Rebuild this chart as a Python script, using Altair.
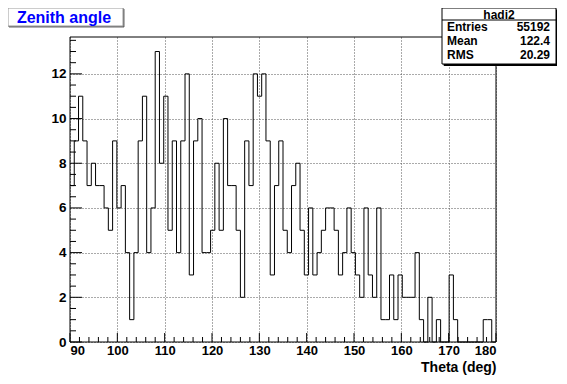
import altair as alt
import pandas as pd

# ---------------- data ----------------
x_min, x_max, n_bins = 90, 180, 100
counts = [7, 9, 11, 9, 7, 8, 7, 7, 6, 5, 9, 6, 7, 4, 1, 4, 9,
          11, 4, 6, 13, 8, 11, 5, 9, 4, 9, 12, 3, 9, 10, 4,
          4, 5, 8, 5, 10, 7, 7, 5, 2, 9, 7, 12, 11, 12, 9, 3, 7, 9,
          5, 4, 7, 8, 5, 3, 6, 3, 4, 5, 6, 6, 5, 3, 4, 6,
          4, 3, 2, 6, 3, 2, 6, 1, 1, 3, 1, 3, 2, 2, 2, 4, 1,
          0, 2, 0, 1, 0, 0, 3, 1, 0, 0, 0, 0, 0, 0, 1, 1, 0]
x_ticks = [90, 100, 110, 120, 130, 140, 150, 160, 170, 180]
y_ticks = [0, 2, 4, 6, 8, 10, 12]
y_max = 13.65
title_text = "Zenith angle"
stats_name = "hadi2"
stats_labels = ["Entries", "Mean", "RMS"]
stats_values = ["55192", "122.4", "20.29"]
x_title = "Theta (deg)"

# ---------------- build tables ----------------
bw = (x_max - x_min) / n_bins
edges = [x_min + i * bw for i in range(n_bins)] + [x_max]
hist_df = pd.DataFrame({"x": edges, "y": counts + [counts[-1]]})

x_minor = [v for v in range(x_min, x_max + 1, 2) if v % 10]
y_minor = [k * 0.5 for k in range(1, 28) if k % 4]

W, H = 426, 305
FONT = "Liberation Sans"

xscale = alt.Scale(domain=[x_min, x_max], nice=False, zero=False)
yscale = alt.Scale(domain=[0, y_max], nice=False)

xaxis = alt.Axis(values=x_ticks, title=x_title, grid=True,
                 gridDash=[1, 2], gridColor="#555", gridWidth=1,
                 ticks=False, domain=False, labelPadding=2,
                 labelFont=FONT, labelFontWeight="bold",
                 labelFontSize=13, labelColor="black",
                 titleFont=FONT, titleFontWeight="bold",
                 titleFontSize=14, titleColor="black",
                 titleAnchor="end", titleAlign="right",
                 titleBaseline="middle", titleY=25, titleX=W)
yaxis = alt.Axis(values=y_ticks, title=None, grid=True,
                 gridDash=[1, 2], gridColor="#555", gridWidth=1,
                 ticks=False, domain=False, labelPadding=4,
                 labelFont=FONT, labelFontWeight="bold",
                 labelFontSize=13.5, labelColor="black")

hist = alt.Chart(hist_df).mark_line(
    interpolate="step-after", color="black", strokeWidth=1
).encode(
    x=alt.X("x:Q", scale=xscale, axis=xaxis),
    y=alt.Y("y:Q", scale=yscale, axis=yaxis),
)

def xtick(vals, length):
    return alt.Chart(pd.DataFrame({"x": vals})).mark_rule(
        color="black", strokeWidth=1).encode(
        x=alt.X("x:Q", scale=xscale, axis=xaxis),
        y=alt.value(H), y2=alt.value(H - length))

def ytick(vals, length):
    return alt.Chart(pd.DataFrame({"y": vals})).mark_rule(
        color="black", strokeWidth=1).encode(
        y=alt.Y("y:Q", scale=yscale, axis=yaxis),
        x=alt.value(0), x2=alt.value(length))

one = pd.DataFrame({"a": [0]})

def box(x1, x2, y1, y2, fill="white", stroke="black", sw=1):
    return alt.Chart(one).mark_rect(fill=fill, stroke=stroke, strokeWidth=sw).encode(
        x=alt.value(x1), x2=alt.value(x2), y=alt.value(y1), y2=alt.value(y2))

def rule(x1, x2, y1, y2, color="black"):
    return alt.Chart(one).mark_rule(color=color, strokeWidth=1).encode(
        x=alt.value(x1), x2=alt.value(x2), y=alt.value(y1), y2=alt.value(y2))

def label(txt, x, y, align, size=12, color="black"):
    return alt.Chart(one).mark_text(
        font=FONT, fontWeight="bold", fontSize=size, color=color,
        align=align, baseline="middle").encode(
        x=alt.value(x), y=alt.value(y), text=alt.value(txt))

frame = alt.Chart(one).mark_rect(fill=None, stroke="black", strokeWidth=1).encode(
    x=alt.value(0), x2=alt.value(W), y=alt.value(0), y2=alt.value(H))

# title box (top-left)
t_shadow = box(-61, 54, -28, -10, fill="#666", stroke="#666")
t_box = box(-62, 53, -29, -11, fill="white", stroke="#999")
t_text = label(title_text, -6, -19.5, "center", size=16, color="#0000ff")

# stats box (top-right)
s_shadow = box(374, 487.5, -27, 28.5, fill="black", stroke="black")
s_box = box(372, 486, -29, 27, fill="white", stroke="black")
s_sep = rule(372, 486, -17, -17)
s_name = label(stats_name, 429, -22.5, "center")
row_y = [-10.5, 4, 18]
s_rows = []
for lab, val, yy in zip(stats_labels, stats_values, row_y):
    s_rows.append(label(lab, 377, yy, "left"))
    s_rows.append(label(val, 480, yy, "right"))

chart = alt.layer(
    hist,
    xtick(x_ticks, 9), xtick(x_minor, 5),
    ytick(y_ticks, 12), ytick(y_minor, 6),
    frame,
    t_shadow, t_box, t_text,
    s_shadow, s_box, s_sep, s_name, *s_rows,
).properties(
    width=W, height=H,
    padding={"left": 62, "top": 29, "right": 61, "bottom": 34},
    autosize=alt.AutoSizeParams(type="none"),
    background="white",
).configure_view(stroke=None)

chart.save("out.html", embed_options={"renderer": "svg", "actions": False})
